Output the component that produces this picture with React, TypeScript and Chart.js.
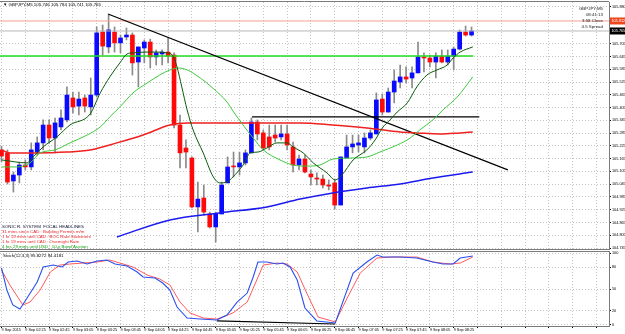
import React, { useEffect, useRef } from 'react';
import { Chart, registerables } from 'chart.js';

Chart.register(...registerables);

// ---------- text ----------
const symbolTitle = '\u25BC GBPJPY,M5 105.746 105.784 105.741 105.765';
const infoLines = ['GBPJPY,M5', '08:41:13', '3:58 Close', '4.5 Spread'];
const headlineTitle = 'SONIC R. SYSTEM  FOCAL HEADLINES';
const headlines = [
  '31 mins since CAD : Building Permits m/m',
  '1 hr 19 mins until CAD : BOC Rate Statement',
  '1 hr 19 mins until CAD : Overnight Rate',
  '4 hrs 29 mins until USD : 10-y Bond Auction',
];
const headlineColors = ['#e8262a', '#e8262a', '#e8262a', '#10a010'];
const stochTitle = 'Stoch(12,3,3) 95.8272 94.4181';

// ---------- candles (bar index 0..79, M5) ----------
const opens = [
  105.206, 105.192, 105.060, 105.088, 105.135, 105.126, 105.196, 105.239, 105.323, 105.262,
  105.314, 105.347, 105.450, 105.412, 105.450, 105.408, 105.464, 105.760, 105.690, 105.760,
  105.709, 105.737, 105.746, 105.619, 105.685, 105.713, 105.643, 105.657, 105.666, 105.652,
  105.323, 105.215, 105.168, 104.938, 104.980, 104.905, 104.844, 104.905, 105.051, 105.130,
  105.126, 105.145, 105.192, 105.337, 105.286, 105.267, 105.276, 105.267, 105.281, 105.220,
  105.135, 105.163, 105.093, 105.074, 105.069, 105.041, 105.051, 104.947, 105.168, 105.220,
  105.229, 105.220, 105.262, 105.281, 105.445, 105.384, 105.478, 105.525, 105.549, 105.544,
  105.568, 105.643, 105.638, 105.619, 105.647, 105.619, 105.647, 105.680, 105.760, 105.746,
];
const highs = [
  105.224, 105.206, 105.102, 105.149, 105.159, 105.239, 105.267, 105.347, 105.347, 105.356,
  105.394, 105.502, 105.478, 105.478, 105.464, 105.544, 105.784, 105.793, 105.840, 105.784,
  105.746, 105.779, 105.756, 105.690, 105.723, 105.727, 105.676, 105.676, 105.732, 105.662,
  105.370, 105.253, 105.173, 105.055, 105.041, 104.914, 104.914, 105.055, 105.173, 105.196,
  105.196, 105.206, 105.356, 105.347, 105.300, 105.323, 105.323, 105.323, 105.323, 105.243,
  105.182, 105.182, 105.112, 105.098, 105.088, 105.065, 105.069, 105.173, 105.276, 105.276,
  105.276, 105.286, 105.300, 105.474, 105.469, 105.497, 105.582, 105.605, 105.596, 105.596,
  105.713, 105.662, 105.652, 105.662, 105.676, 105.676, 105.690, 105.770, 105.788, 105.784,
];
const lows = [
  105.149, 105.046, 105.008, 105.051, 105.112, 105.112, 105.182, 105.206, 105.239, 105.192,
  105.300, 105.337, 105.380, 105.370, 105.384, 105.370, 105.455, 105.652, 105.662, 105.666,
  105.662, 105.723, 105.558, 105.502, 105.615, 105.591, 105.605, 105.605, 105.615, 105.309,
  105.121, 105.121, 104.933, 104.820, 104.900, 104.839, 104.773, 104.905, 105.051, 105.079,
  105.088, 105.135, 105.192, 105.253, 105.206, 105.206, 105.243, 105.253, 105.206, 105.102,
  105.112, 105.098, 105.041, 105.041, 105.027, 105.018, 104.928, 104.947, 105.168, 105.192,
  105.196, 105.192, 105.253, 105.281, 105.370, 105.384, 105.427, 105.497, 105.521, 105.497,
  105.568, 105.572, 105.596, 105.544, 105.615, 105.605, 105.582, 105.676, 105.741, 105.741,
];
const closes = [
  105.177, 105.055, 105.088, 105.135, 105.126, 105.206, 105.239, 105.323, 105.262, 105.333,
  105.356, 105.464, 105.408, 105.445, 105.412, 105.464, 105.756, 105.694, 105.770, 105.709,
  105.732, 105.746, 105.615, 105.690, 105.713, 105.643, 105.662, 105.666, 105.647, 105.323,
  105.192, 105.196, 104.938, 104.975, 104.914, 104.844, 104.905, 105.041, 105.126, 105.126,
  105.145, 105.192, 105.337, 105.281, 105.215, 105.220, 105.262, 105.281, 105.229, 105.135,
  105.163, 105.102, 105.079, 105.069, 105.041, 105.036, 104.947, 105.173, 105.220, 105.234,
  105.239, 105.262, 105.286, 105.441, 105.384, 105.478, 105.530, 105.549, 105.539, 105.568,
  105.643, 105.638, 105.619, 105.647, 105.619, 105.647, 105.680, 105.760, 105.746, 105.765,
];

// ---------- moving averages [bar index, price] ----------
const fastMaPoints = [
  [0, 105.159], [4.3, 105.145], [5.3, 105.173], [7.0, 105.220], [9.3, 105.267], [11.5, 105.323],
  [14.9, 105.375], [16.6, 105.474], [18.2, 105.549], [19.9, 105.615], [21.1, 105.657], [22.1, 105.662],
  [24.5, 105.666], [26.1, 105.666], [27.8, 105.662], [28.7, 105.652], [29.5, 105.596], [30.3, 105.502],
  [31.2, 105.394], [32.2, 105.300], [33.9, 105.192], [35.6, 105.079], [36.7, 105.051], [37.9, 105.055],
  [38.9, 105.079], [40.6, 105.135], [41.8, 105.192], [43.1, 105.196], [44.6, 105.215], [46.3, 105.239],
  [48.0, 105.239], [49.0, 105.220], [50.7, 105.192], [52.4, 105.145], [54.7, 105.098], [56.1, 105.065],
  [57.2, 105.088], [59.1, 105.159], [61.4, 105.206], [62.8, 105.253], [64.0, 105.309], [65.3, 105.347],
  [66.5, 105.384], [68.2, 105.427], [69.8, 105.502], [71.5, 105.558], [73.2, 105.582], [74.9, 105.605],
  [75.9, 105.638], [77.1, 105.666], [79.2, 105.690],
];
const midMaPoints = [
  [0, 105.126], [2.6, 105.126], [4.8, 105.145], [6.5, 105.192], [9.0, 105.206], [11.5, 105.239],
  [14.4, 105.276], [16.6, 105.314], [18.2, 105.361], [19.9, 105.408], [22.1, 105.474], [24.5, 105.521],
  [26.6, 105.558], [28.3, 105.582], [29.7, 105.591], [31.2, 105.582], [33.4, 105.544], [35.5, 105.497],
  [37.9, 105.431], [38.9, 105.389], [40.6, 105.323], [42.3, 105.262], [44.0, 105.206], [46.8, 105.159],
  [49.0, 105.135], [51.4, 105.130], [53.5, 105.135], [55.7, 105.163], [58.6, 105.168], [61.4, 105.173],
  [63.6, 105.196], [66.5, 105.229], [68.7, 105.262], [70.3, 105.300], [72.5, 105.347], [74.2, 105.394],
  [76.6, 105.455], [79.2, 105.549],
];
const slowMaPoints = [
  [0, 105.206], [1.4, 105.192], [5.3, 105.192], [11.0, 105.196], [14.9, 105.206], [19.4, 105.239],
  [23.8, 105.276], [28.3, 105.323], [31.2, 105.333], [36.2, 105.333], [41.8, 105.333], [47.3, 105.333],
  [50.2, 105.333], [55.7, 105.323], [61.4, 105.309], [67.0, 105.290], [69.8, 105.286], [73.7, 105.281],
  [77.1, 105.286], [79.2, 105.290],
];
const longMaPoints = [
  [19.4, 104.797], [28.3, 104.877], [36.7, 104.910], [44.6, 104.938], [50.2, 104.975],
  [55.7, 105.004], [61.4, 105.027], [67.0, 105.046], [72.5, 105.074], [79.2, 105.102],
];

// ---------- drawn objects ----------
const trendLine = [[17.9, 105.845], [85.1, 105.112]];
const resistanceLine = [[42.1, 105.361], [80.3, 105.361]];
const greenLevelLine = [[-0.3, 105.647], [79.3, 105.647]];
const redLevelPrice = 105.812;
const bidPrice = 105.765;

// ---------- stochastic [bar index, value] ----------
const stochMainPoints = [
  [0, 79.2], [0.9, 48.6], [1.9, 27.8], [3.1, 22.2], [4.3, 37.5], [6.0, 59.7], [7.0, 80.6], [8.7, 83.3],
  [10.2, 80.6], [11.2, 87.5], [12.7, 88.9], [14.4, 84.7], [16.1, 88.9], [17.7, 90.3], [19.1, 84.7],
  [21.1, 81.9], [22.8, 73.6], [23.8, 66.7], [25.8, 65.3], [27.1, 58.3], [28.3, 48.6], [29.5, 25.0],
  [31.2, 9.7], [33.4, 8.3], [36.2, 6.9], [37.9, 13.9], [39.6, 31.9], [41.3, 44.4], [42.3, 66.7],
  [43.1, 87.5], [44.6, 87.5], [46.3, 84.7], [47.3, 86.1], [48.5, 80.6], [49.7, 62.5], [51.0, 23.6],
  [53.0, 5.6], [56.1, 2.8], [59.1, 72.2], [61.4, 87.5], [63.1, 97.2], [64.1, 94.4], [67.0, 94.4],
  [69.8, 93.1], [72.5, 87.5], [74.2, 84.7], [75.9, 84.7], [77.1, 93.1], [79.2, 95.8],
];
const stochSignalPoints = [
  [0, 76.4], [1.4, 55.6], [3.6, 27.8], [4.8, 31.9], [6.5, 48.6], [8.2, 73.6], [9.8, 83.3], [11.5, 84.7],
  [13.7, 86.1], [16.1, 87.5], [18.2, 90.3], [19.9, 86.1], [22.1, 80.6], [24.5, 69.4], [26.6, 63.9],
  [28.3, 55.6], [30.0, 31.9], [31.7, 16.7], [33.9, 9.7], [36.2, 8.3], [38.9, 16.7], [41.3, 31.9],
  [42.9, 62.5], [44.0, 83.3], [46.3, 86.1], [48.0, 84.7], [49.7, 73.6], [51.3, 44.4], [53.2, 11.1],
  [56.1, 4.2], [58.1, 37.5], [60.3, 72.2], [63.1, 93.1], [65.8, 94.4], [69.8, 94.4], [72.5, 87.5],
  [75.4, 84.7], [77.1, 86.1], [79.2, 94.4],
];
const stochDivergence = [[36.2, 5.6], [56.1, 1.4]];

// ---------- axes ----------
const xTickBars = [0, 4, 8, 12, 16, 20, 24, 28, 32, 36, 40, 44, 48, 52, 56, 60, 64, 68, 72, 76, 80, 84, 88, 92, 96, 100];
const xTickLabels = [
  '9 Sep 2015', '9 Sep 02:25', '9 Sep 02:45', '9 Sep 03:05', '9 Sep 03:25', '9 Sep 03:45', '9 Sep 04:05',
  '9 Sep 04:25', '9 Sep 04:45', '9 Sep 05:05', '9 Sep 05:25', '9 Sep 05:45', '9 Sep 06:05', '9 Sep 06:25',
  '9 Sep 06:45', '9 Sep 07:05', '9 Sep 07:25', '9 Sep 07:45', '9 Sep 08:05', '9 Sep 08:25',
];
const yTickValues = [
  104.745, 104.805, 104.865, 104.925, 104.985, 105.045, 105.105, 105.165, 105.225,
  105.285, 105.345, 105.405, 105.465, 105.525, 105.585, 105.645, 105.705, 105.880,
];
const stochTickValues = [0, 20, 50, 80, 100];

const X_MIN = -0.2521;
const X_MAX = 102.101;
const Y_MIN = 104.7403;
const Y_MAX = 105.9012;
const S_MIN = -1.39;
const S_MAX = 102.8;

const FONT = '"Liberation Sans", Arial, sans-serif';
const FS_AXIS = 3.8;
const FS_TEXT = 4.4;
const GRID = '#c4c4c4';
const FRAME = '#7a7a7a';
const BULL = '#0a0aff';
const BEAR = '#ff0a0a';

const pts = (arr: number[][]) => arr.map(([x, y]) => ({ x, y }));

const lineDs = (data: number[][], color: string, width: number, smooth = true) => ({
  type: 'line' as const,
  data: pts(data),
  borderColor: color,
  borderWidth: width,
  pointRadius: 0,
  fill: false,
  cubicInterpolationMode: smooth ? ('monotone' as const) : ('default' as const),
  tension: 0,
  order: 0,
});

export default function App() {
  const mainRef = useRef<HTMLCanvasElement | null>(null);
  const stochRef = useRef<HTMLCanvasElement | null>(null);

  useEffect(() => {
    document.body.style.margin = '0';
    document.body.style.background = '#ffffff';

    const bodyColors = opens.map((o, i) => (closes[i] >= o ? BULL : BEAR));

    const mainOverlay = {
      id: 'mainOverlay',
      afterDraw(chart: any) {
        const { ctx, chartArea, scales } = chart;
        const y = scales.y;
        ctx.save();
        ctx.strokeStyle = FRAME;
        ctx.lineWidth = 1;
        ctx.beginPath();
        ctx.moveTo(0, chartArea.top - 0.5);
        ctx.lineTo(chartArea.right, chartArea.top - 0.5);
        ctx.stroke();

        ctx.font = `${FS_TEXT}px ${FONT}`;
        ctx.textBaseline = 'middle';
        ctx.fillStyle = '#000';
        ctx.textAlign = 'left';
        ctx.fillText(symbolTitle, 3, 5);

        ctx.textAlign = 'right';
        ctx.fillStyle = '#222';
        infoLines.forEach((t, i) => ctx.fillText(t, chartArea.right - 6, 9 + i * 6));

        ctx.font = `${FS_AXIS}px ${FONT}`;
        const box = (price: number, fill: string, label: string) => {
          const py = y.getPixelForValue(price);
          ctx.fillStyle = fill;
          ctx.fillRect(chartArea.right + 1, py - 3.5, 625 - chartArea.right - 1, 7);
          ctx.fillStyle = '#fff';
          ctx.textAlign = 'left';
          ctx.fillText(label, chartArea.right + 2.5, py);
        };
        box(redLevelPrice, '#f0461e', redLevelPrice.toFixed(3));
        box(bidPrice, '#000', bidPrice.toFixed(3));

        ctx.font = `${FS_TEXT}px ${FONT}`;
        ctx.textAlign = 'left';
        ctx.fillStyle = '#101030';
        ctx.fillText(headlineTitle, 2, 227);
        headlines.forEach((t, i) => {
          ctx.fillStyle = headlineColors[i];
          ctx.fillText(t, 2, 232 + i * 4.8);
        });
        ctx.restore();
      },
    };

    const mainChart = new Chart(mainRef.current as HTMLCanvasElement, {
      type: 'bar',
      data: {
        datasets: [
          lineDs(fastMaPoints, '#0a5a0a', 1),
          lineDs(midMaPoints, '#3cc83c', 1),
          lineDs(slowMaPoints, '#ee2020', 1.5),
          lineDs(longMaPoints, '#1a1aee', 1.5),
          lineDs(trendLine, '#000', 1.2, false),
          lineDs(resistanceLine, '#000', 1.2, false),
          lineDs(greenLevelLine, '#22dd22', 1.5, false),
          lineDs([[X_MIN, redLevelPrice], [X_MAX, redLevelPrice]], '#f4a090', 1, false),
          lineDs([[X_MIN, bidPrice], [X_MAX, bidPrice]], '#b8b8b8', 1, false),
          {
            type: 'bar',
            data: opens.map((o, i) => ({ x: i, y: [o, closes[i]] })),
            backgroundColor: bodyColors,
            borderWidth: 0,
            barThickness: 4,
            minBarLength: 1,
            grouped: false,
            order: 1,
          } as any,
          {
            type: 'bar',
            data: lows.map((l, i) => ({ x: i, y: [l, highs[i]] })),
            backgroundColor: '#8a8a8a',
            borderWidth: 0,
            barThickness: 1,
            grouped: false,
            order: 2,
          } as any,
        ],
      },
      options: {
        animation: false,
        responsive: false,
        devicePixelRatio: 1,
        events: [],
        layout: { padding: { top: 2, bottom: 1, left: 0, right: 0 } },
        plugins: { legend: { display: false }, tooltip: { enabled: false } },
        scales: {
          x: {
            type: 'linear',
            min: X_MIN,
            max: X_MAX,
            offset: false,
            afterBuildTicks: (s: any) => {
              s.ticks = xTickBars.map((v) => ({ value: v }));
            },
            afterFit: (s: any) => {
              s.height = 0;
              s.paddingLeft = 0;
              s.paddingRight = 0;
            },
            ticks: { display: false },
            grid: { color: GRID, drawTicks: false, offset: false },
            border: { display: true, color: FRAME, dash: [1, 2] },
          },
          y: {
            type: 'linear',
            position: 'right',
            min: Y_MIN,
            max: Y_MAX,
            afterBuildTicks: (s: any) => {
              s.ticks = yTickValues.map((v) => ({ value: v }));
            },
            afterFit: (s: any) => {
              s.width = 16;
              s.paddingTop = 0;
              s.paddingBottom = 0;
            },
            ticks: {
              autoSkip: false,
              padding: 1,
              color: '#000',
              font: { family: FONT, size: FS_AXIS },
              callback: (v: any) => Number(v).toFixed(3),
            },
            grid: { color: GRID, drawTicks: true, tickLength: 2, tickColor: '#000' },
            border: { display: true, color: FRAME, dash: [1, 2] },
          },
        },
      } as any,
      plugins: [mainOverlay],
    } as any);

    const stochOverlay = {
      id: 'stochOverlay',
      afterDraw(chart: any) {
        const { ctx, chartArea } = chart;
        ctx.save();
        ctx.strokeStyle = FRAME;
        ctx.lineWidth = 1;
        ctx.beginPath();
        ctx.moveTo(0, chartArea.top + 0.5);
        ctx.lineTo(chartArea.right, chartArea.top + 0.5);
        ctx.stroke();
        ctx.font = `${FS_TEXT}px ${FONT}`;
        ctx.textBaseline = 'middle';
        ctx.textAlign = 'left';
        ctx.fillStyle = '#000';
        ctx.fillText(stochTitle, 3, 5.5);
        ctx.restore();
      },
    };

    const stochChart = new Chart(stochRef.current as HTMLCanvasElement, {
      type: 'line',
      data: {
        datasets: [
          lineDs(stochMainPoints, '#2a4ff0', 1.1, false),
          lineDs(stochSignalPoints, '#ff5a5a', 1, false),
          lineDs(stochDivergence, '#000', 1.2, false),
        ],
      },
      options: {
        animation: false,
        responsive: false,
        devicePixelRatio: 1,
        events: [],
        layout: { padding: { top: 1, bottom: 0, left: 0, right: 0 } },
        plugins: { legend: { display: false }, tooltip: { enabled: false } },
        scales: {
          x: {
            type: 'linear',
            min: X_MIN,
            max: X_MAX,
            offset: false,
            afterBuildTicks: (s: any) => {
              s.ticks = xTickBars.map((v) => ({ value: v }));
            },
            afterFit: (s: any) => {
              s.height = 8;
              s.paddingLeft = 0;
              s.paddingRight = 0;
            },
            ticks: {
              autoSkip: false,
              maxRotation: 0,
              minRotation: 0,
              align: 'start',
              padding: 0,
              color: '#000',
              font: { family: FONT, size: FS_AXIS },
              callback: (v: any) => {
                const k = Math.round(Number(v) / 4);
                return k < xTickLabels.length ? xTickLabels[k] : '';
              },
            },
            grid: { color: GRID, drawTicks: true, tickLength: 2, tickColor: '#000', offset: false },
            border: { display: true, color: FRAME, dash: [1, 2] },
          },
          y: {
            type: 'linear',
            position: 'right',
            min: S_MIN,
            max: S_MAX,
            afterBuildTicks: (s: any) => {
              s.ticks = stochTickValues.map((v) => ({ value: v }));
            },
            afterFit: (s: any) => {
              s.width = 16;
              s.paddingTop = 0;
              s.paddingBottom = 0;
            },
            ticks: {
              autoSkip: false,
              padding: 1,
              color: '#000',
              font: { family: FONT, size: FS_AXIS },
              callback: (v: any) => String(v),
            },
            grid: { color: GRID, drawTicks: true, tickLength: 2, tickColor: '#000' },
            border: { display: true, color: FRAME, dash: [1, 2] },
          },
        },
      } as any,
      plugins: [stochOverlay],
    } as any);

    return () => {
      mainChart.destroy();
      stochChart.destroy();
    };
  }, []);

  return (
    <div style={{ width: 625, height: 334, background: '#fff', overflow: 'hidden' }}>
      <canvas ref={mainRef} width={625} height={250} style={{ display: 'block' }} />
      <canvas ref={stochRef} width={625} height={84} style={{ display: 'block' }} />
    </div>
  );
}
